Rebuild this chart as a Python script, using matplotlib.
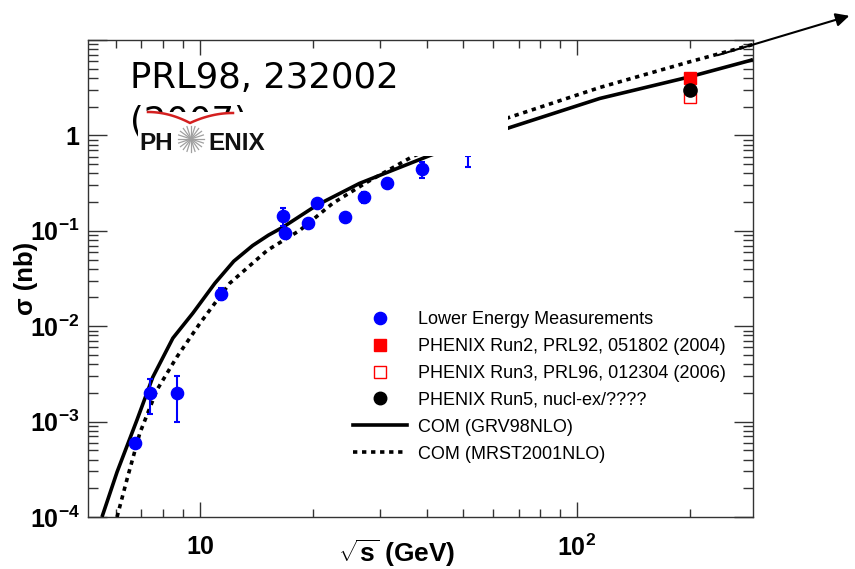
import matplotlib.pyplot as plt
import matplotlib.patches as mpatches
from matplotlib.lines import Line2D
import numpy as np

plt.rcParams['font.family'] = ['Liberation Sans', 'DejaVu Sans']
plt.rcParams['mathtext.fontset'] = 'custom'
plt.rcParams['mathtext.rm'] = 'Liberation Sans'
plt.rcParams['mathtext.bf'] = 'Liberation Sans:bold'
plt.rcParams['mathtext.it'] = 'Liberation Sans:italic'

# lower energy measurements (sqrt(s) in GeV, sigma in nb)
low_x = [6.73, 7.36, 8.68, 11.4, 16.6, 16.8, 19.4, 20.4, 24.3, 27.2, 31.4, 38.8]
low_y = [6.0e-4, 2.0e-3, 2.0e-3, 0.022, 0.142, 0.094, 0.12, 0.194, 0.138, 0.224, 0.314, 0.44]
low_err = [0.6e-4, 0.8e-3, 1.0e-3, 0.003, 0.03, 0.01, 0.01, 0.015, 0.01, 0.03, 0.03, 0.08]
# point drawn only as an error bar
isr_x = [51.4]
isr_y = [0.534]
isr_err = [0.07]

# PHENIX points
run2_x, run2_y = [200], [4.0]
run3_x, run3_y = [200], [2.55]
run5_x, run5_y = [200], [3.0]

# COM curves
grv_x = [5.5, 6.03, 6.81, 7.5, 8.48, 9.58, 10.96, 12.3, 13.8, 15.2, 16.6, 20.4, 26.5, 33.9, 40.8,
         66.4, 115, 196, 288, 293]
grv_y = [1e-4, 2.96e-4, 1.04e-3, 2.92e-3, 7.5e-3, 1.37e-2, 2.82e-2, 0.048, 0.070, 0.090, 0.109,
         0.185, 0.314, 0.462, 0.617, 1.21, 2.44, 4.05, 6.1, 6.25]
mrst_x = [6.03, 6.4, 6.93, 7.69, 8.68, 10.0, 12.0, 15.1, 18.4, 22.5, 27.7, 36.7, 66.0, 115, 196, 293]
mrst_y = [1e-4, 2.44e-4, 7.58e-4, 2.14e-3, 4.73e-3, 0.0107, 0.0282, 0.0625, 0.101, 0.194, 0.322,
          0.603, 1.54, 3.18, 5.81, 8.97]

W, H = 855, 569
fig = plt.figure(figsize=(W / 100, H / 100), dpi=100)
ax = fig.add_axes([88 / W, 1 - 517 / H, (753 - 88) / W, (517 - 40) / H])
ax.set_xscale('log')
ax.set_yscale('log')
ax.set_xlim(5.05, 293)
ax.set_ylim(1e-4, 10)

ax.plot(grv_x, grv_y, color='black', lw=2.6, solid_capstyle='butt', zorder=3)
ax.plot(mrst_x, mrst_y, color='black', lw=2.6, linestyle=(0, (1.2, 1.3)), zorder=3)

ax.errorbar(low_x, low_y, yerr=low_err, fmt='o', color='blue', ms=8.8,
            elinewidth=1.5, capsize=2, capthick=1.5, zorder=4)
ax.errorbar(isr_x, isr_y, yerr=isr_err, fmt='none', ecolor='blue',
            elinewidth=1.5, capsize=2.5, capthick=1.5, zorder=4)
ax.plot(run2_x, run2_y, 's', color='red', ms=8, zorder=4)
ax.plot(run3_x, run3_y, 's', mfc='white', mec='red', mew=1, ms=8, zorder=4)
ax.plot(run5_x, run5_y, 'o', color='black', ms=9.5, zorder=5)

ax.set_xticks([10, 100])
ax.set_xticklabels(['10', r'$\mathbf{10^{2}}$'])
ax.set_yticks([1e-4, 1e-3, 1e-2, 1e-1, 1, 10])
ax.set_yticklabels([r'$\mathbf{10^{-4}}$', r'$\mathbf{10^{-3}}$', r'$\mathbf{10^{-2}}$',
                    r'$\mathbf{10^{-1}}$', '1', ''])
ax.tick_params(axis='both', which='both', direction='in', top=True, right=True,
               labelsize=18, width=1, color='#333333')
for lab in ax.get_xticklabels() + ax.get_yticklabels():
    lab.set_fontweight('bold')
ax.tick_params(axis='x', which='major', length=11, pad=13)
ax.tick_params(axis='x', which='minor', length=6)
ax.tick_params(axis='y', which='major', length=14, pad=6)
ax.tick_params(axis='y', which='minor', length=7)
for s in ax.spines.values():
    s.set_color('#333333')
    s.set_linewidth(1)

ax.set_xlabel(r'$\mathbf{\sqrt{s}\ (GeV)}$', fontsize=19)
ax.xaxis.set_label_coords((397 - 88) / 665, (517 - 537) / 477)
ax.set_ylabel('σ (nb)', fontsize=18.5, fontweight='bold')
ax.yaxis.set_label_coords((38 - 88) / 665, (517 - 278) / 477)

handles = [
    Line2D([], [], marker='o', color='blue', ls='none', ms=8.8),
    Line2D([], [], marker='s', color='red', ls='none', ms=8),
    Line2D([], [], marker='s', mfc='white', mec='red', mew=1, ls='none', ms=8),
    Line2D([], [], marker='o', color='black', ls='none', ms=9),
    Line2D([], [], color='black', lw=2.6),
    Line2D([], [], color='black', lw=2.6, linestyle=(0, (1.2, 1.3))),
]
labels = ['Lower Energy Measurements', 'PHENIX Run2, PRL92, 051802 (2004)',
          'PHENIX Run3, PRL96, 012304 (2006)', 'PHENIX Run5, nucl-ex/????',
          'COM (GRV98NLO)', 'COM (MRST2001NLO)']
ax.legend(handles, labels, loc='upper left', bbox_to_anchor=((353 - 88) / 665, (517 - 311) / 477),
          frameon=False, fontsize=13, handlelength=3.0, handletextpad=0.62,
          labelspacing=0.55, borderpad=0, borderaxespad=0)

# title text
fig.text(130 / W, 1 - 88 / H, 'PRL98, 232002', fontsize=25.5, family='DejaVu Sans',
         va='baseline', ha='left')
fig.text(130 / W, 1 - 132 / H, '(2007)', fontsize=25.5, family='DejaVu Sans',
         va='baseline', ha='left')

# white logo box
box = mpatches.Rectangle((138 / W, 1 - 156 / H), (508 - 138) / W, (156 - 112) / H,
                         transform=fig.transFigure, facecolor='white', edgecolor='none',
                         zorder=10)
fig.patches.append(box)
fig.text(139 / W, 1 - 150 / H, 'PH', fontsize=17.5, fontweight='bold', va='baseline',
         ha='left', zorder=11, color='#111111')
fig.text(208 / W, 1 - 150 / H, 'ENIX', fontsize=17.5, fontweight='bold', va='baseline',
         ha='left', zorder=11, color='#111111')
cx, cy, r = 191, 139, 13
for a in np.linspace(0, np.pi, 10, endpoint=False):
    dx, dy = r * np.cos(a), r * np.sin(a)
    fig.add_artist(Line2D([(cx - dx) / W, (cx + dx) / W], [1 - (cy - dy) / H, 1 - (cy + dy) / H],
                          transform=fig.transFigure, color='#a0a0a0', lw=0.9, zorder=11))
t = np.linspace(0, 1, 30)
sx1 = 148 + (190 - 148) * t
sy1 = 112 + 11 * t ** 2
sx2 = 190 + (233 - 190) * t
sy2 = 123 - 10 * (1 - (1 - t) ** 2)
fig.add_artist(Line2D(np.r_[sx1, sx2] / W, 1 - np.r_[sy1, sy2] / H, transform=fig.transFigure,
                      color='#d42020', lw=1.8, zorder=11))

# arrow
ax.annotate('', xy=(852 / W, 1 - 15 / H), xytext=(715 / W, 1 - 56 / H),
            xycoords='figure fraction', textcoords='figure fraction',
            arrowprops=dict(arrowstyle='-|>', color='black', lw=1.5, mutation_scale=20),
            annotation_clip=False)

fig.savefig('out.png', dpi=100)
